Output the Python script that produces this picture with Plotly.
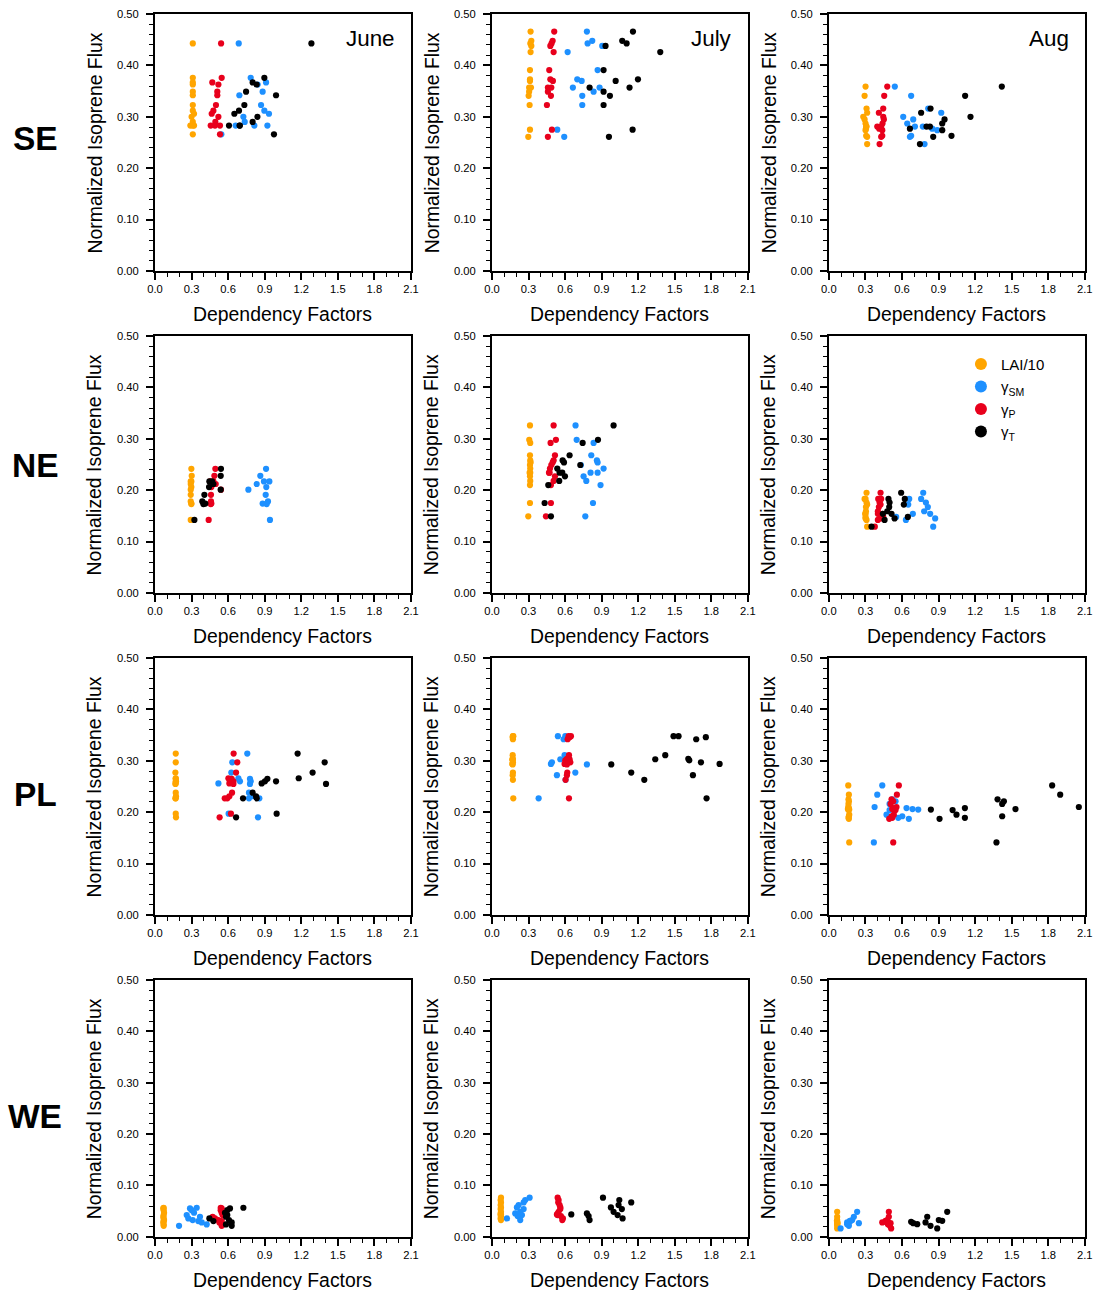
import plotly.graph_objects as go

W, H = 1100, 1290

MONTHS = ["June", "July", "Aug"]
REGIONS = ["SE", "NE", "PL", "WE"]
SERIES_NAMES = ["LAI/10", "γ<sub>SM</sub>", "γ<sub>P</sub>", "γ<sub>T</sub>"]
SERIES_COLORS = ["#FFA500", "#1E90FF", "#E8001C", "#000000"]

X_TICKS = [0.0, 0.3, 0.6, 0.9, 1.2, 1.5, 1.8, 2.1]
Y_TICKS = [0.0, 0.1, 0.2, 0.3, 0.4, 0.5]

# ---------------- SE ----------------
SE_JUN_FLUX = [0.443, 0.376, 0.367, 0.363, 0.349, 0.342, 0.323, 0.312, 0.306, 0.300, 0.290, 0.283, 0.283, 0.283, 0.266]
SE_JUN_LAI = [0.31, 0.31, 0.31, 0.31, 0.31, 0.31, 0.31, 0.31, 0.32, 0.30, 0.31, 0.29, 0.31, 0.32, 0.31]
SE_JUN_SM = [0.687, 0.785, 0.911, 0.842, 0.883, 0.692, 0.870, 0.897, 0.935, 0.725, 0.736, 0.662, 0.815, 0.922, 0.544]
SE_JUN_P = [0.542, 0.547, 0.470, 0.520, 0.511, 0.511, 0.500, 0.479, 0.465, 0.520, 0.495, 0.457, 0.492, 0.533, 0.533]
SE_JUN_T = [1.283, 0.897, 0.801, 0.834, 0.747, 0.993, 0.733, 0.689, 0.651, 0.840, 0.801, 0.607, 0.695, 0.695, 0.976]

SE_JUL_FLUX = [0.466, 0.448, 0.443, 0.438, 0.426, 0.391, 0.373, 0.370, 0.357, 0.357, 0.349, 0.341, 0.323, 0.275, 0.261]
SE_JUL_LAI = [0.317, 0.323, 0.315, 0.323, 0.317, 0.312, 0.312, 0.312, 0.320, 0.305, 0.305, 0.301, 0.309, 0.312, 0.298]
SE_JUL_SM = [0.779, 0.823, 0.785, 0.905, 0.621, 0.867, 0.700, 0.736, 0.664, 0.883, 0.834, 0.741, 0.741, 0.536, 0.593]
SE_JUL_P = [0.511, 0.498, 0.489, 0.479, 0.506, 0.470, 0.479, 0.500, 0.459, 0.487, 0.459, 0.484, 0.451, 0.492, 0.459]
SE_JUL_T = [1.157, 1.069, 1.105, 0.932, 1.381, 0.916, 1.198, 1.015, 0.801, 1.129, 0.916, 0.968, 0.916, 1.154, 0.960]

SE_AUG_FLUX = [0.359, 0.341, 0.316, 0.308, 0.300, 0.295, 0.287, 0.281, 0.281, 0.277, 0.274, 0.263, 0.261, 0.247]
SE_AUG_LAI = [0.301, 0.293, 0.309, 0.314, 0.282, 0.293, 0.301, 0.309, 0.306, 0.304, 0.301, 0.306, 0.314, 0.314]
SE_AUG_SM = [0.541, 0.675, 0.815, 0.922, 0.610, 0.692, 0.643, 0.706, 0.771, 0.848, 0.889, 0.675, 0.665, 0.785]
SE_AUG_P = [0.479, 0.454, 0.446, 0.410, 0.446, 0.451, 0.440, 0.397, 0.429, 0.413, 0.438, 0.438, 0.429, 0.416]
SE_AUG_T = [1.419, 1.118, 0.834, 0.757, 1.162, 0.949, 0.930, 0.801, 0.829, 0.665, 0.930, 1.006, 0.856, 0.747]

# ---------------- NE ----------------
NE_JUN_FLUX = [0.2415, 0.228, 0.217, 0.217, 0.212, 0.206, 0.201, 0.191, 0.178, 0.174, 0.173, 0.142]
NE_JUN_LAI = [0.298, 0.301, 0.298, 0.293, 0.293, 0.298, 0.293, 0.293, 0.293, 0.298, 0.298, 0.293]
NE_JUN_SM = [0.911, 0.864, 0.894, 0.938, 0.834, 0.913, 0.766, 0.908, 0.927, 0.883, 0.916, 0.943]
NE_JUN_P = [0.495, 0.487, 0.451, 0.479, 0.498, 0.462, 0.541, 0.459, 0.459, 0.462, 0.457, 0.440]
NE_JUN_T = [0.541, 0.539, 0.468, 0.446, 0.479, 0.443, 0.539, 0.405, 0.388, 0.413, 0.397, 0.323]

NE_JUL_FLUX = [0.326, 0.298, 0.292, 0.268, 0.258, 0.254, 0.249, 0.242, 0.234, 0.234, 0.227, 0.218, 0.210, 0.175, 0.149]
NE_JUL_LAI = [0.312, 0.306, 0.314, 0.312, 0.314, 0.317, 0.312, 0.314, 0.309, 0.314, 0.312, 0.314, 0.312, 0.312, 0.298]
NE_JUL_SM = [0.686, 0.695, 0.834, 0.815, 0.861, 0.867, 0.730, 0.916, 0.809, 0.867, 0.752, 0.774, 0.891, 0.829, 0.766]
NE_JUL_P = [0.506, 0.525, 0.481, 0.517, 0.506, 0.498, 0.487, 0.476, 0.468, 0.473, 0.517, 0.506, 0.484, 0.484, 0.443]
NE_JUL_T = [0.998, 0.870, 0.744, 0.637, 0.580, 0.591, 0.725, 0.536, 0.555, 0.577, 0.599, 0.552, 0.462, 0.432, 0.484]

NE_AUG_FLUX = [0.195, 0.183, 0.183, 0.176, 0.172, 0.167, 0.159, 0.154, 0.154, 0.148, 0.145, 0.142, 0.129]
NE_AUG_LAI = [0.309, 0.293, 0.301, 0.309, 0.314, 0.304, 0.304, 0.301, 0.298, 0.301, 0.301, 0.309, 0.314]
NE_AUG_SM = [0.774, 0.757, 0.659, 0.796, 0.651, 0.812, 0.782, 0.689, 0.831, 0.552, 0.872, 0.632, 0.856]
NE_AUG_P = [0.424, 0.405, 0.429, 0.416, 0.424, 0.410, 0.402, 0.402, 0.438, 0.446, 0.424, 0.402, 0.377]
NE_AUG_T = [0.593, 0.623, 0.489, 0.498, 0.615, 0.495, 0.479, 0.443, 0.514, 0.648, 0.539, 0.457, 0.350]

# ---------------- PL ----------------
PL_JUN_FLUX = [0.314, 0.297, 0.277, 0.266, 0.265, 0.260, 0.260, 0.256, 0.255, 0.238, 0.231, 0.227, 0.227, 0.197, 0.190]
PL_JUN_LAI = [0.170, 0.170, 0.167, 0.170, 0.170, 0.172, 0.170, 0.170, 0.167, 0.170, 0.172, 0.170, 0.167, 0.170, 0.172]
PL_JUN_SM = [0.757, 0.634, 0.626, 0.684, 0.779, 0.697, 0.785, 0.520, 0.779, 0.771, 0.807, 0.771, 0.856, 0.604, 0.845]
PL_JUN_P = [0.645, 0.675, 0.665, 0.602, 0.629, 0.615, 0.643, 0.610, 0.643, 0.632, 0.610, 0.572, 0.593, 0.623, 0.530]
PL_JUN_T = [1.170, 1.392, 1.293, 1.179, 0.922, 0.902, 0.993, 0.875, 1.403, 0.801, 0.829, 0.722, 0.834, 0.998, 0.665]

PL_JUL_FLUX = [0.348, 0.348, 0.346, 0.342, 0.311, 0.304, 0.303, 0.301, 0.297, 0.294, 0.293, 0.277, 0.272, 0.263, 0.227]
PL_JUL_LAI = [0.172, 0.175, 0.170, 0.172, 0.170, 0.172, 0.167, 0.170, 0.172, 0.167, 0.170, 0.172, 0.170, 0.172, 0.175]
PL_JUL_SM = [0.541, 0.602, 0.618, 0.588, 0.596, 0.632, 0.561, 0.615, 0.492, 0.484, 0.779, 0.684, 0.533, 0.604, 0.383]
PL_JUL_P = [0.648, 0.629, 0.637, 0.621, 0.632, 0.615, 0.637, 0.602, 0.643, 0.596, 0.615, 0.618, 0.615, 0.604, 0.632]
PL_JUL_T = [1.490, 1.531, 1.755, 1.676, 1.422, 1.611, 1.340, 1.619, 1.715, 1.868, 0.979, 1.143, 1.649, 1.250, 1.761]

PL_AUG_FLUX = [0.252, 0.234, 0.225, 0.221, 0.216, 0.210, 0.208, 0.206, 0.205, 0.204, 0.195, 0.192, 0.189, 0.187, 0.141]
PL_AUG_LAI = [0.159, 0.164, 0.161, 0.164, 0.161, 0.159, 0.164, 0.156, 0.167, 0.161, 0.167, 0.164, 0.161, 0.164, 0.167]
PL_AUG_SM = [0.438, 0.397, 0.520, 0.547, 0.498, 0.375, 0.637, 0.686, 0.733, 0.498, 0.473, 0.602, 0.569, 0.656, 0.369]
PL_AUG_P = [0.574, 0.558, 0.514, 0.528, 0.506, 0.555, 0.533, 0.520, 0.539, 0.547, 0.533, 0.514, 0.520, 0.495, 0.528]
PL_AUG_T = [1.832, 1.898, 1.384, 1.436, 1.422, 2.051, 1.116, 1.531, 0.837, 1.015, 1.047, 1.422, 1.116, 0.908, 1.375]

# ---------------- WE ----------------
WE_JUN_FLUX = [0.0566, 0.0553, 0.052, 0.0469, 0.0423, 0.0391, 0.0358, 0.0326, 0.0306, 0.028, 0.0241, 0.0215]
WE_JUN_LAI = [0.071, 0.068, 0.071, 0.074, 0.071, 0.068, 0.071, 0.074, 0.071, 0.068, 0.071, 0.071]
WE_JUN_SM = [0.342, 0.287, 0.301, 0.320, 0.260, 0.369, 0.273, 0.309, 0.355, 0.383, 0.424, 0.197]
WE_JUN_P = [0.539, 0.547, 0.539, 0.547, 0.555, 0.473, 0.492, 0.520, 0.547, 0.528, 0.547, 0.547]
WE_JUN_T = [0.725, 0.615, 0.593, 0.574, 0.593, 0.582, 0.446, 0.607, 0.479, 0.629, 0.582, 0.629]

WE_JUL_FLUX = [0.0762, 0.0716, 0.0670, 0.0618, 0.0573, 0.054, 0.0488, 0.0456, 0.0436, 0.0423, 0.0404, 0.0358, 0.0326]
WE_JUL_LAI = [0.074, 0.071, 0.074, 0.071, 0.074, 0.071, 0.074, 0.071, 0.074, 0.071, 0.074, 0.071, 0.074]
WE_JUL_SM = [0.309, 0.273, 0.260, 0.219, 0.205, 0.260, 0.232, 0.191, 0.219, 0.246, 0.211, 0.123, 0.232]
WE_JUL_P = [0.539, 0.547, 0.544, 0.555, 0.561, 0.561, 0.547, 0.542, 0.533, 0.539, 0.566, 0.582, 0.577]
WE_JUL_T = [0.911, 1.045, 1.143, 1.039, 0.976, 1.066, 0.998, 0.779, 0.651, 1.031, 0.793, 1.072, 0.801]

WE_AUG_FLUX = [0.0488, 0.0391, 0.0326, 0.0312, 0.0293, 0.028, 0.0267, 0.0247, 0.0215, 0.0163]
WE_AUG_LAI = [0.068, 0.068, 0.068, 0.066, 0.068, 0.068, 0.071, 0.068, 0.068, 0.068]
WE_AUG_SM = [0.232, 0.205, 0.191, 0.172, 0.172, 0.150, 0.246, 0.150, 0.164, 0.096]
WE_AUG_P = [0.492, 0.492, 0.479, 0.465, 0.465, 0.438, 0.506, 0.484, 0.500, 0.511]
WE_AUG_T = [0.971, 0.807, 0.902, 0.930, 0.675, 0.793, 0.692, 0.725, 0.834, 0.889]

# panel grid: rows = regions, cols = months; each panel holds (flux, [LAI, SM, P, T])
PANELS = [
    [(SE_JUN_FLUX, [SE_JUN_LAI, SE_JUN_SM, SE_JUN_P, SE_JUN_T]),
     (SE_JUL_FLUX, [SE_JUL_LAI, SE_JUL_SM, SE_JUL_P, SE_JUL_T]),
     (SE_AUG_FLUX, [SE_AUG_LAI, SE_AUG_SM, SE_AUG_P, SE_AUG_T])],
    [(NE_JUN_FLUX, [NE_JUN_LAI, NE_JUN_SM, NE_JUN_P, NE_JUN_T]),
     (NE_JUL_FLUX, [NE_JUL_LAI, NE_JUL_SM, NE_JUL_P, NE_JUL_T]),
     (NE_AUG_FLUX, [NE_AUG_LAI, NE_AUG_SM, NE_AUG_P, NE_AUG_T])],
    [(PL_JUN_FLUX, [PL_JUN_LAI, PL_JUN_SM, PL_JUN_P, PL_JUN_T]),
     (PL_JUL_FLUX, [PL_JUL_LAI, PL_JUL_SM, PL_JUL_P, PL_JUL_T]),
     (PL_AUG_FLUX, [PL_AUG_LAI, PL_AUG_SM, PL_AUG_P, PL_AUG_T])],
    [(WE_JUN_FLUX, [WE_JUN_LAI, WE_JUN_SM, WE_JUN_P, WE_JUN_T]),
     (WE_JUL_FLUX, [WE_JUL_LAI, WE_JUL_SM, WE_JUL_P, WE_JUL_T]),
     (WE_AUG_FLUX, [WE_AUG_LAI, WE_AUG_SM, WE_AUG_P, WE_AUG_T])],
]

# pixel geometry of the plot frames
COL_LEFT = [149.2, 491.1, 833.0]
ROW_TOP = [8.2, 333.2, 658.2, 983.2]
PANEL_W, PANEL_H = 259.7, 259.2
ROW_LABEL_X = 27.5
ROW_LABEL_Y = [133.7, 463.8, 795.9, 1120.9]

FONT = "Liberation Sans, Arial, Helvetica, sans-serif"
DRAW_ORDER = [0, 1, 2, 3]
LEGEND_PANEL = (1, 2)


def px(x):
    return x / W


def py(y):
    return 1 - y / H


fig = go.Figure()
annotations = []

for r in range(4):
    for c in range(3):
        k = r * 3 + c + 1
        suffix = "" if k == 1 else str(k)
        flux, factors = PANELS[r][c]
        for s in DRAW_ORDER:
            fig.add_trace(go.Scatter(
                x=factors[s], y=flux, mode="markers",
                marker=dict(color=SERIES_COLORS[s], size=6.2, line=dict(width=0)),
                name=SERIES_NAMES[s],
                showlegend=(r, c) == LEGEND_PANEL,
                xaxis="x" + suffix, yaxis="y" + suffix,
            ))

        x0 = COL_LEFT[c]
        y0 = ROW_TOP[r]
        common = dict(
            showline=True, linecolor="black", linewidth=2, mirror=True,
            showgrid=False, zeroline=False,
            ticks="outside", ticklen=7, tickwidth=1.5, tickcolor="black",
            tickfont=dict(family=FONT, size=11.2, color="black"),
        )
        fig.layout["xaxis" + suffix] = dict(
            common,
            domain=[px(x0), px(x0 + PANEL_W)],
            anchor="y" + suffix,
            range=[0, 2.1], tickmode="array", tickvals=X_TICKS,
            ticktext=[f"{v:.1f}" for v in X_TICKS],
            minor=dict(tickmode="linear", tick0=0, dtick=0.1, ticks="outside",
                       ticklen=4, tickwidth=1.2, tickcolor="black", showgrid=False),
        )
        fig.layout["yaxis" + suffix] = dict(
            common,
            domain=[py(y0 + PANEL_H), py(y0)],
            anchor="x" + suffix,
            range=[0, 0.5], tickmode="array", tickvals=Y_TICKS,
            ticktext=[f"{v:.2f}" for v in Y_TICKS],
            ticklabelstandoff=5,
            minor=dict(tickmode="linear", tick0=0, dtick=0.02, ticks="outside",
                       ticklen=4, tickwidth=1.2, tickcolor="black", showgrid=False),
        )

        # axis titles
        annotations.append(dict(
            text="Dependency Factors", xref="paper", yref="paper",
            x=px(x0 + PANEL_W / 2), y=py(y0 + PANEL_H + 43.5),
            xanchor="center", yanchor="middle", showarrow=False,
            font=dict(family=FONT, size=19.4, color="black"),
        ))
        annotations.append(dict(
            text="Normalized Isoprene Flux", xref="paper", yref="paper",
            x=px(x0 - 61), y=py(y0 + PANEL_H / 2), textangle=-90,
            xanchor="center", yanchor="middle", showarrow=False,
            font=dict(family=FONT, size=19.4, color="black"),
        ))

    annotations.append(dict(
        text=f"<b>{REGIONS[r]}</b>", xref="paper", yref="paper",
        x=px(ROW_LABEL_X), y=py(ROW_LABEL_Y[r]), xanchor="center", yanchor="middle",
        showarrow=False, font=dict(family=FONT, size=33.5, color="black"),
    ))

for c in range(3):
    annotations.append(dict(
        text=MONTHS[c], xref="paper", yref="paper",
        x=px(COL_LEFT[c] + PANEL_W - 14), y=py(32.5),
        xanchor="right", yanchor="middle", showarrow=False,
        font=dict(family=FONT, size=22.4, color="black"),
    ))

fig.update_layout(
    width=W, height=H,
    margin=dict(l=0, r=0, t=0, b=0),
    paper_bgcolor="white", plot_bgcolor="white",
    annotations=annotations,
    showlegend=True,
    legend=dict(
        x=px(967), y=py(345), xanchor="left", yanchor="top",
        bgcolor="rgba(0,0,0,0)", borderwidth=0,
        font=dict(family=FONT, size=15, color="black"),
        itemwidth=30, tracegroupgap=0, itemsizing="constant",
    ),
)

fig.write_html("out.html")
